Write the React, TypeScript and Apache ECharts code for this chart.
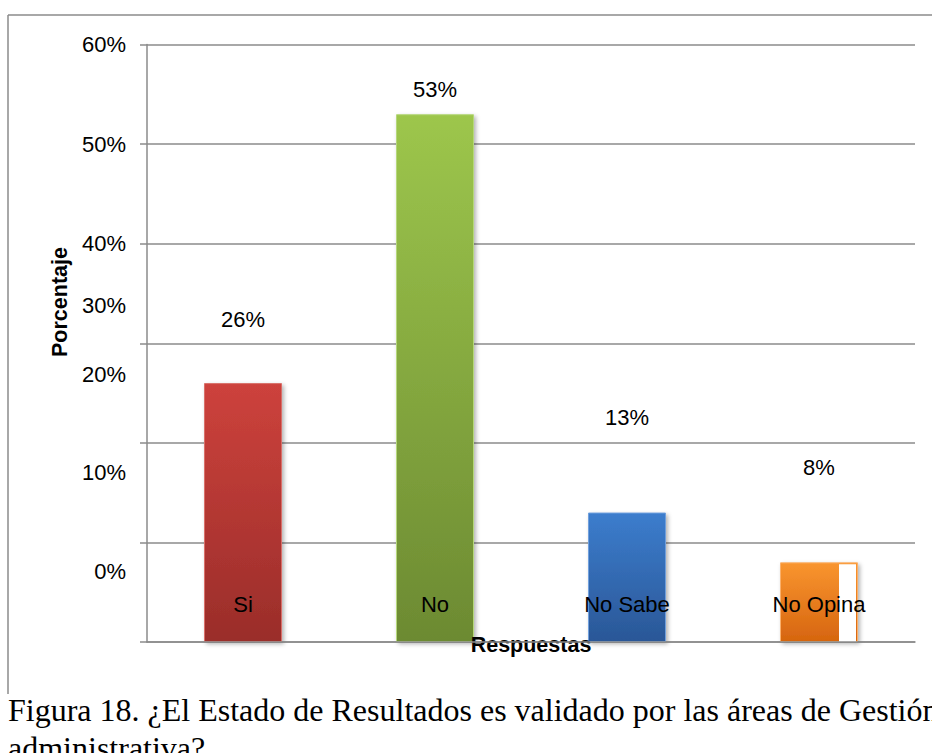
import React, { useEffect, useRef } from "react";
import * as echarts from "echarts";

// ---- data ----
const categories: string[] = ["Si", "No", "No Sabe", "No Opina"];
const percentages: number[] = [26, 53, 13, 8];
const yTickValues: number[] = [0, 10, 20, 30, 40, 50, 60];
const yMin = 0;
const yMax = 60;
const yStep = 10;
const xAxisTitle = "Respuestas";
const yAxisTitle = "Porcentaje";
const captionLines: string[] = [
  "Figura 18. ¿El Estado de Resultados es validado por las áreas de Gestión",
  "administrativa?",
];

// ---- styling (not data) ----
const barGradients: string[][] = [
  ["#cd423c", "#9a2d2a"],
  ["#9dc64c", "#6c8a32"],
  ["#3c7dcd", "#2a5797"],
  ["#f9952f", "#d6650f"],
];
const barBorders: string[] = ["#d9706b", "#b5d77a", "#6f9fdc", "#fbb06a"];
const labelRaise: number[] = [53, 14, 84, 84];
const tickLabelShift: Record<number, number> = { 0: 71, 10: 70, 20: 68, 30: 38, 40: 1, 50: 0, 60: 1 };

const NARROW = '"Liberation Sans Narrow", "Arial Narrow", "Liberation Sans", Arial, sans-serif';
const SANS = '"Liberation Sans", Arial, sans-serif';
const SERIF = '"Liberation Serif", "Times New Roman", serif';
const GRID_GRAY = "#8b8b8b";
const LABEL_SIZE = 22;

export default function App() {
  const ref = useRef<HTMLDivElement>(null);

  useEffect(() => {
    if (!ref.current) return;
    const chart = echarts.init(ref.current, undefined, { renderer: "svg" });

    const rich: Record<string, any> = {
      t: { fontSize: LABEL_SIZE, lineHeight: 26, fontFamily: NARROW, color: "#000" },
    };
    yTickValues.forEach((v) => {
      const s = tickLabelShift[v] || 0;
      rich["s" + v] = { fontSize: 2, lineHeight: Math.max(2, s * 2), fontFamily: NARROW };
    });

    const option: any = {
      animation: false,
      backgroundColor: "#ffffff",
      grid: { left: 147, right: 17, top: 44.5, bottom: 111, containLabel: false },
      xAxis: {
        type: "category",
        data: categories,
        z: 5,
        axisLine: { show: true, lineStyle: { color: GRID_GRAY, width: 1.5 } },
        axisTick: { show: false },
        axisLabel: {
          margin: -49,
          fontSize: LABEL_SIZE,
          fontFamily: NARROW,
          color: "#000",
          interval: 0,
        },
        name: xAxisTitle,
        nameLocation: "middle",
        nameGap: -8,
        nameMoveOverlap: false,
        nameTextStyle: { fontSize: 21.5, fontWeight: "bold", fontFamily: SANS, color: "#000" },
      },
      yAxis: {
        type: "value",
        min: yMin,
        max: yMax,
        interval: yStep,
        axisLine: { show: true, lineStyle: { color: GRID_GRAY, width: 1.5 } },
        axisTick: { show: true, length: 7, lineStyle: { color: GRID_GRAY, width: 1.5 } },
        splitLine: { show: true, lineStyle: { color: GRID_GRAY, width: 1.5 } },
        axisLabel: {
          margin: 21,
          formatter: (v: number) => {
            const s = tickLabelShift[v] || 0;
            return s < 3 ? `{t|${v}%}` : `{t|${v}%}\n{s${v}| }`;
          },
          rich,
        },
      },
      series: [
        {
          type: "bar",
          barWidth: 78,
          data: percentages.map((v, i) => ({
            value: v,
            itemStyle: {
              color: new echarts.graphic.LinearGradient(0, 0, 0, 1, [
                { offset: 0, color: barGradients[i][0] },
                { offset: 1, color: barGradients[i][1] },
              ]),
              borderColor: barBorders[i],
              borderWidth: 1,
              shadowBlur: 4,
              shadowOffsetX: 2,
              shadowOffsetY: 2,
              shadowColor: "rgba(0,0,0,0.3)",
            },
            label: { distance: labelRaise[i] },
          })),
          label: {
            show: true,
            position: "top",
            formatter: "{c}%",
            fontSize: LABEL_SIZE,
            fontFamily: NARROW,
            color: "#000",
          },
          z: 2,
        },
        {
          type: "custom",
          z: 3,
          silent: true,
          data: [[3, percentages[3]]],
          renderItem: (params: any, api: any) => {
            const top = api.coord([api.value(0), api.value(1)]);
            const base = api.coord([api.value(0), 0]);
            return {
              type: "rect",
              shape: { x: top[0] + 20, y: top[1] + 2, width: 17, height: base[1] - top[1] - 2 },
              style: { fill: "#ffffff" },
            };
          },
        },
      ],
      graphic: [
        { type: "line", shape: { x1: 8, y1: 15, x2: 932, y2: 15 }, style: { stroke: GRID_GRAY, lineWidth: 1.5 } },
        { type: "line", shape: { x1: 8, y1: 15, x2: 8, y2: 694 }, style: { stroke: GRID_GRAY, lineWidth: 1.5 } },
        {
          type: "text",
          x: 60,
          y: 302,
          rotation: Math.PI / 2,
          style: {
            text: yAxisTitle,
            align: "center",
            verticalAlign: "middle",
            fontSize: 21.5,
            fontWeight: "bold",
            fontFamily: SANS,
            fill: "#000",
          },
        },
        {
          type: "text",
          x: 8,
          y: 710,
          style: { text: captionLines[0], align: "left", verticalAlign: "middle", fontSize: 32, fontFamily: SERIF, fill: "#000" },
        },
        {
          type: "text",
          x: 8,
          y: 748,
          style: { text: captionLines[1], align: "left", verticalAlign: "middle", fontSize: 32, fontFamily: SERIF, fill: "#000" },
        },
      ],
    };

    chart.setOption(option);
    return () => chart.dispose();
  }, []);

  return <div ref={ref} style={{ position: "absolute", left: 0, top: 0, width: 932, height: 753 }} />;
}
